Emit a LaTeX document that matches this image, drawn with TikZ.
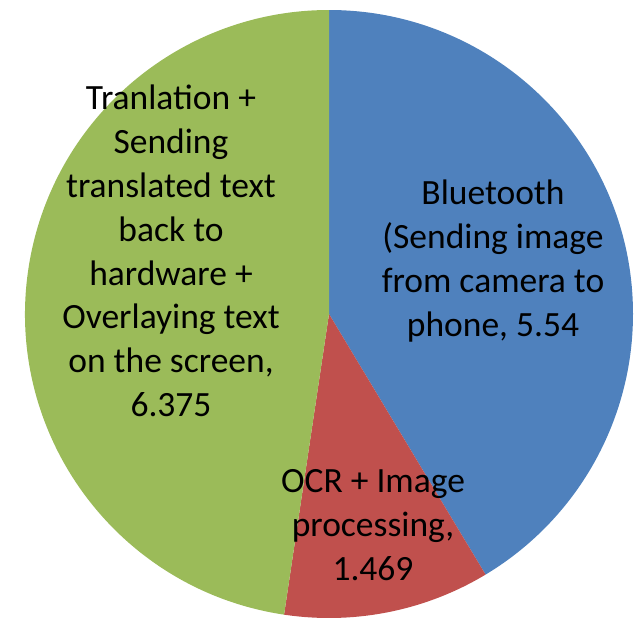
\documentclass[tikz,border=0pt]{standalone}
\usepackage{fontspec}
\setmainfont{Carlito}
\definecolor{pieblue}{HTML}{4F81BD}
\definecolor{piered}{HTML}{C0504D}
\definecolor{piegreen}{HTML}{9BBB59}
\begin{document}
\begin{tikzpicture}[x=1pt,y=-1pt,
  lbl/.style={align=center,text=black,inner sep=0pt,
    font=\fontsize{35.5}{43.8}\selectfont}]
\useasboundingbox (0,0) rectangle (643,619);
% pie: centre and radius (y axis points down, so angles run clockwise)
\coordinate (c) at (329,314);
\def\R{304}
% values 5.54, 1.469, 6.375 (total 13.384), clockwise from the top
\fill[pieblue]  (c) -- ++(270:\R) arc[start angle=270,   end angle=419.0, radius=\R] -- cycle;
\fill[piered]   (c) -- ++(419.0:\R) arc[start angle=419.0, end angle=458.5, radius=\R] -- cycle;
\fill[piegreen] (c) -- ++(458.5:\R) arc[start angle=458.5, end angle=630,   radius=\R] -- cycle;
% labels
\node[lbl] (bt)  at (493,261) {Bluetooth\\(Sending image\\from camera to\\phone, 5.54};
\node[lbl] (ocr) at (373,525) {OCR + Image\\processing,\\1.469};
\node[lbl] (tr)  at (171,251) {Tranlation +\\Sending\\translated text\\back to\\hardware +\\Overlaying text\\on the screen,\\6.375};
\end{tikzpicture}
\end{document}
